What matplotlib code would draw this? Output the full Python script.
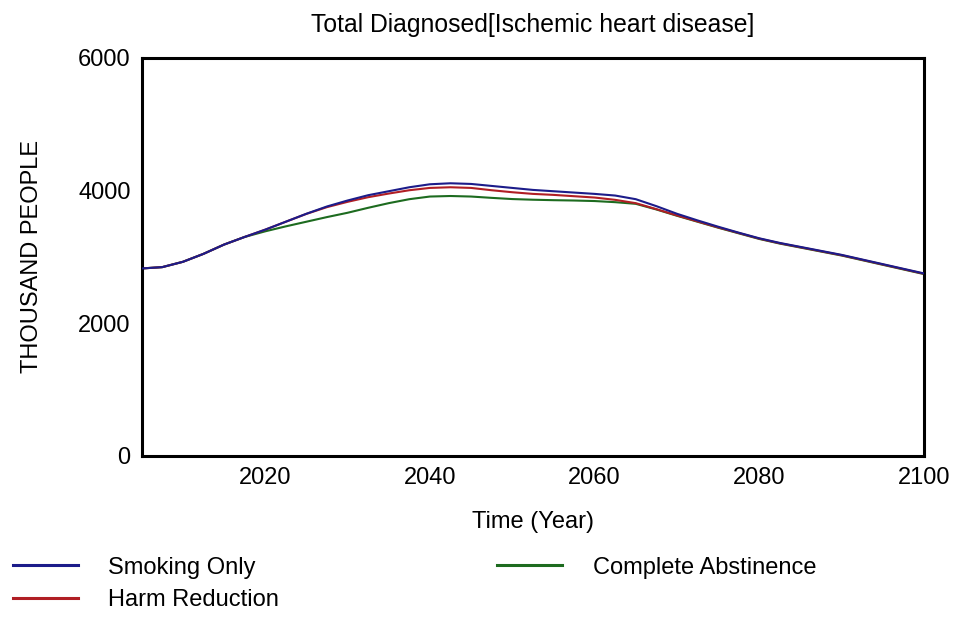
import matplotlib
matplotlib.use("Agg")
import matplotlib.pyplot as plt

plt.rcParams['font.family'] = ['Liberation Sans', 'DejaVu Sans']

years = [2005, 2007.5, 2010, 2012.5, 2015, 2017.5, 2020, 2022.5, 2025, 2027.5,
         2030, 2032.5, 2035, 2037.5, 2040, 2042.5, 2045, 2047.5, 2050, 2052.5,
         2055, 2057.5, 2060, 2062.5, 2065, 2067.5, 2070, 2072.5, 2075, 2077.5,
         2080, 2082.5, 2085, 2087.5, 2090, 2092.5, 2095, 2097.5, 2100]
smoking_only = [2825, 2845, 2925, 3045, 3185, 3300, 3410, 3530, 3650, 3760,
                3850, 3930, 3990, 4050, 4095, 4110, 4100, 4070, 4040, 4010,
                3990, 3970, 3950, 3925, 3870, 3765, 3650, 3550, 3455, 3365,
                3280, 3210, 3150, 3090, 3030, 2960, 2890, 2820, 2750]
harm_reduction = [2825, 2845, 2925, 3045, 3185, 3300, 3410, 3530, 3648, 3750,
                  3830, 3900, 3955, 4005, 4040, 4050, 4040, 4005, 3975, 3950,
                  3935, 3915, 3895, 3860, 3810, 3720, 3625, 3535, 3445, 3360,
                  3275, 3205, 3145, 3085, 3025, 2955, 2885, 2815, 2745]
complete_abstinence = [2825, 2845, 2925, 3045, 3185, 3300, 3385, 3460, 3530, 3600,
                       3665, 3740, 3810, 3870, 3910, 3918, 3910, 3890, 3872, 3862,
                       3855, 3850, 3842, 3825, 3800, 3715, 3620, 3530, 3440, 3355,
                       3270, 3200, 3140, 3080, 3020, 2950, 2880, 2810, 2740]

series_labels = ["Smoking Only", "Harm Reduction", "Complete Abstinence"]
colors = ["#1c1c8a", "#b01e24", "#1d6b1f"]

title = "Total Diagnosed[Ischemic heart disease]"
xlabel = "Time (Year)"
ylabel = "THOUSAND PEOPLE"
xticks = [2020, 2040, 2060, 2080, 2100]
yticks = [0, 2000, 4000, 6000]

fig = plt.figure(figsize=(9.65, 6.17), dpi=100)
ax = fig.add_axes([0.1468, 0.2614, 0.8107, 0.6446])

l1, = ax.plot(years, smoking_only, color=colors[0], lw=1.5, zorder=3)
l2, = ax.plot(years, harm_reduction, color=colors[1], lw=1.5, zorder=2)
l3, = ax.plot(years, complete_abstinence, color=colors[2], lw=1.5, zorder=1)

ax.set_xlim(2005, 2100)
ax.set_ylim(0, 6000)
ax.set_xticks(xticks)
ax.set_yticks(yticks)
ax.tick_params(length=0, labelsize=17, pad=8)
for s in ax.spines.values():
    s.set_linewidth(2.2)
    s.set_color("black")

ax.set_title(title, fontsize=17.8, pad=19)
ax.set_xlabel(xlabel, fontsize=17, labelpad=16)
ax.set_ylabel(ylabel, fontsize=17, labelpad=25)

handles = [l1, l2, l3]
leg = fig.legend(handles, series_labels, loc='upper left', ncol=2,
                 bbox_to_anchor=(0.0133, 0.098), frameon=False, fontsize=17,
                 handlelength=2.74, handletextpad=1.3, columnspacing=9.24,
                 labelspacing=0.45, borderpad=0, borderaxespad=0)
for h in leg.legend_handles:
    h.set_linewidth(2.2)

fig.savefig("out.png", dpi=100)
